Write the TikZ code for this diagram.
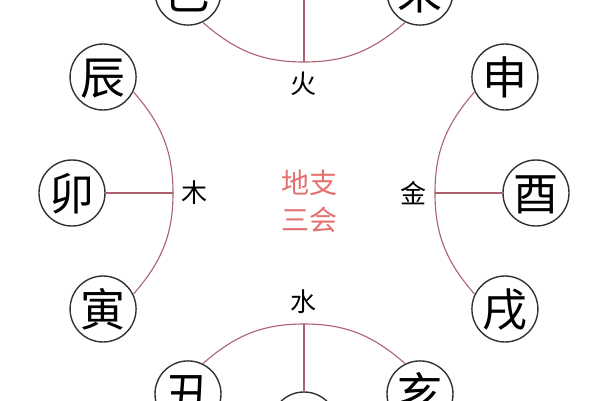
\documentclass[tikz,border=0pt]{standalone}
\usepackage{fontspec}
\newfontfamily\cjk{Noto Sans CJK SC}
\definecolor{ringline}{RGB}{172,96,112}
\definecolor{titlered}{RGB}{228,112,112}
\tikzset{
  branch/.style={circle, draw=black!80, line width=1.4pt, minimum size=66pt, inner sep=0pt,
    text height=36pt, text depth=2pt, font=\cjk\fontsize{45}{45}\selectfont},
  element/.style={font=\cjk\fontsize{26}{26}\selectfont},
  link/.style={draw=ringline, line width=1.1pt},
  title/.style={align=center, text=titlered, font=\cjk\fontsize{28}{37}\selectfont},
}
\begin{document}
\begin{tikzpicture}[x=1pt, y=1pt]
    \useasboundingbox (-304,-207) rectangle (296,193);
    \foreach \name/\ch/\ang in {you/酉/0, shen/申/30, wei/未/60, wu/午/90, si/巳/120, chen/辰/150,
        mao/卯/180, yin/寅/210, chou/丑/240, zi/子/270, hai/亥/300, xu/戌/330}{
        \node[branch] (\name) at (\ang:232) {\ch};
    }
    \foreach \g/\ch/\dir/\a/\b/\c in {jin/金/0/xu/you/shen, huo/火/90/wei/wu/si,
        mu/木/180/chen/mao/yin, shui/水/270/chou/zi/hai}{
        \coordinate (\g) at (\dir:131);
        \node[element] (\g t) at (\dir:109) {\ch};
        \pgfmathtruncatemacro\ancA{\dir+154}
        \pgfmathtruncatemacro\outA{\dir+131}
        \pgfmathtruncatemacro\inJ{\dir-90}
        \pgfmathtruncatemacro\outJ{\dir+90}
        \pgfmathtruncatemacro\ancC{\dir-154}
        \pgfmathtruncatemacro\inC{\dir-131}
        \draw[link] (\a.\ancA) to[out=\outA, in=\inJ] (\g) to[out=\outJ, in=\inC] (\c.\ancC);
        \draw[link] (\b) -- (\g);
    }
    \node[title] (title) at (6,-8) {地支\\三会};
\end{tikzpicture}
\end{document}
